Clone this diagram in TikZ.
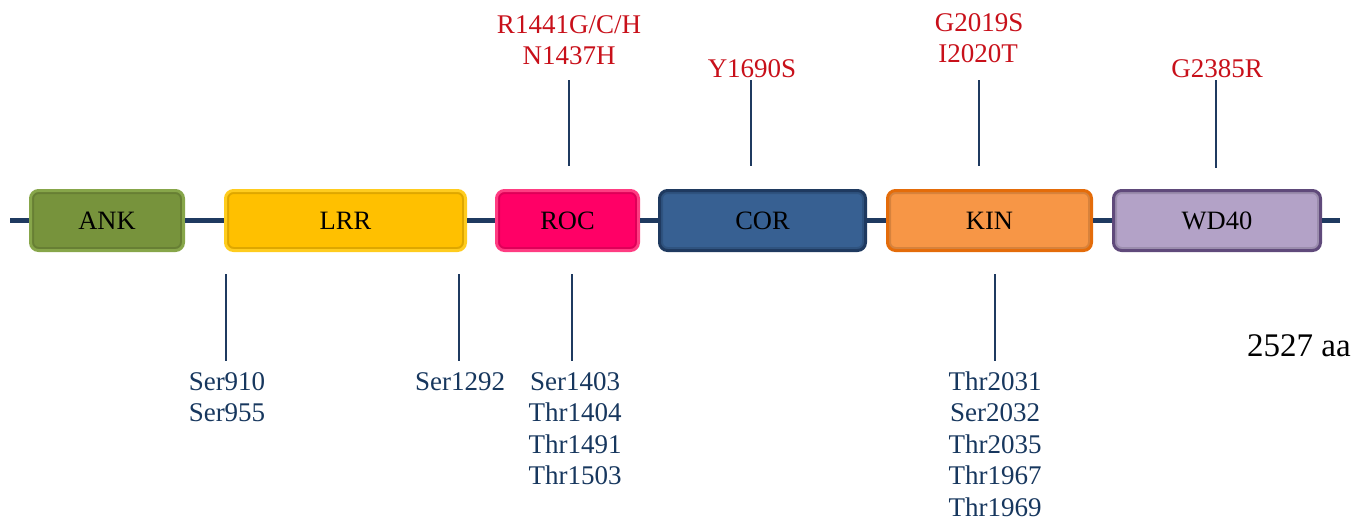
\documentclass[tikz,border=0pt]{standalone}
\usepackage{fontspec}
\setmainfont{Liberation Serif}
\begin{document}
\begin{tikzpicture}[x=1pt,y=-1pt,
  backbone/.style={draw=navyline, line width=4.5pt},
  stick/.style={draw=navyline, line width=1.3pt},
  dom/.style={rectangle, rounded corners=8pt, line width=3pt,
    minimum height=60pt, inner sep=0pt,
    text height=17.5pt, text depth=0pt,
    font=\fontsize{26.5}{30}\selectfont, text=black,
    path picture={\draw[line width=7pt, black, opacity=0.13, rounded corners=8pt]
      (path picture bounding box.south west) rectangle (path picture bounding box.north east);}},
  mut/.style={anchor=base, inner sep=0pt, text=mutred, font=\fontsize{27}{30}\selectfont},
  site/.style={anchor=base, inner sep=0pt, text=navytext, font=\fontsize{27}{30}\selectfont},
]
\definecolor{navyline}{HTML}{1F3A60}
\definecolor{navytext}{HTML}{17375E}
\definecolor{mutred}{HTML}{C8101A}

\useasboundingbox (0,0) rectangle (1356,520);

% backbone ends
\coordinate (bbL) at (10,220.5);
\coordinate (bbR) at (1340,220.5);

% domains
\node[dom, fill={rgb,255:red,119;green,147;blue,60}, draw={rgb,255:red,135;green,166;blue,74},
      minimum width=153pt] (ank) at (107,220.5) {ANK};
\node[dom, fill={rgb,255:red,255;green,192;blue,0}, draw={rgb,255:red,255;green,204;blue,30},
      minimum width=240pt] (lrr) at (345.5,220.5) {LRR};
\node[dom, fill={rgb,255:red,255;green,0;blue,102}, draw={rgb,255:red,255;green,60;blue,130},
      minimum width=142pt] (roc) at (567.5,220.5) {ROC};
\node[dom, fill={rgb,255:red,55;green,96;blue,146}, draw={rgb,255:red,31;green,58;blue,96},
      minimum width=206pt] (cor) at (762.5,220.5) {COR};
\node[dom, fill={rgb,255:red,247;green,150;blue,70}, draw={rgb,255:red,228;green,108;blue,10},
      minimum width=204pt] (kin) at (989.5,220.5) {KIN};
\node[dom, fill={rgb,255:red,179;green,162;blue,199}, draw={rgb,255:red,96;green,74;blue,123},
      minimum width=207pt] (wd) at (1217,220.5) {WD40};

% backbone segments between domains
\draw[backbone] (bbL) -- (ank.west);
\draw[backbone] (ank.east) -- (lrr.west);
\draw[backbone] (lrr.east) -- (roc.west);
\draw[backbone] (roc.east) -- (cor.west);
\draw[backbone] (cor.east) -- (kin.west);
\draw[backbone] (kin.east) -- (wd.west);
\draw[backbone] (wd.east) -- (bbR);

% pathogenic mutations (above)
\node[mut] (m1a) at (569,33) {R1441G/C/H};
\node[mut] (m1b) at (569,64) {N1437H};
\node[mut] (m2)  at (752,77) {Y1690S};
\node[mut] (m3a) at (979,31) {G2019S};
\node[mut] (m3b) at (978,62) {I2020T};
\node[mut] (m4)  at (1217,77) {G2385R};

\coordinate (u1t) at (569,80);  \coordinate (u1b) at (569,166);
\coordinate (u2t) at (751,80);  \coordinate (u2b) at (751,166);
\coordinate (u3t) at (979,80);  \coordinate (u3b) at (979,166);
\coordinate (u4t) at (1216,80); \coordinate (u4b) at (1216,168);
\draw[stick] (u1t) -- (u1b);
\draw[stick] (u2t) -- (u2b);
\draw[stick] (u3t) -- (u3b);
\draw[stick] (u4t) -- (u4b);

% phosphorylation sites (below)
\coordinate (d1t) at (226,274); \coordinate (d1b) at (226,361);
\coordinate (d2t) at (459,274); \coordinate (d2b) at (459,361);
\coordinate (d3t) at (572,274); \coordinate (d3b) at (572,361);
\coordinate (d4t) at (995,274); \coordinate (d4b) at (995,361);
\draw[stick] (d1t) -- (d1b);
\draw[stick] (d2t) -- (d2b);
\draw[stick] (d3t) -- (d3b);
\draw[stick] (d4t) -- (d4b);

\foreach \t [count=\i] in {Ser910,Ser955}
  \node[site] (sa\i) at (227,{390+31.5*(\i-1)}) {\t};
\node[site] (sb1) at (460,390) {Ser1292};
\foreach \t [count=\i] in {Ser1403,Thr1404,Thr1491,Thr1503}
  \node[site] (sc\i) at (575,{390+31.5*(\i-1)}) {\t};
\foreach \t [count=\i] in {Thr2031,Ser2032,Thr2035,Thr1967,Thr1969}
  \node[site] (sd\i) at (995,{390+31.5*(\i-1)}) {\t};

% protein length
\node[anchor=base, inner sep=0pt, font=\fontsize{33}{38}\selectfont] (len) at (1299,356) {2527 aa};
\end{tikzpicture}
\end{document}
